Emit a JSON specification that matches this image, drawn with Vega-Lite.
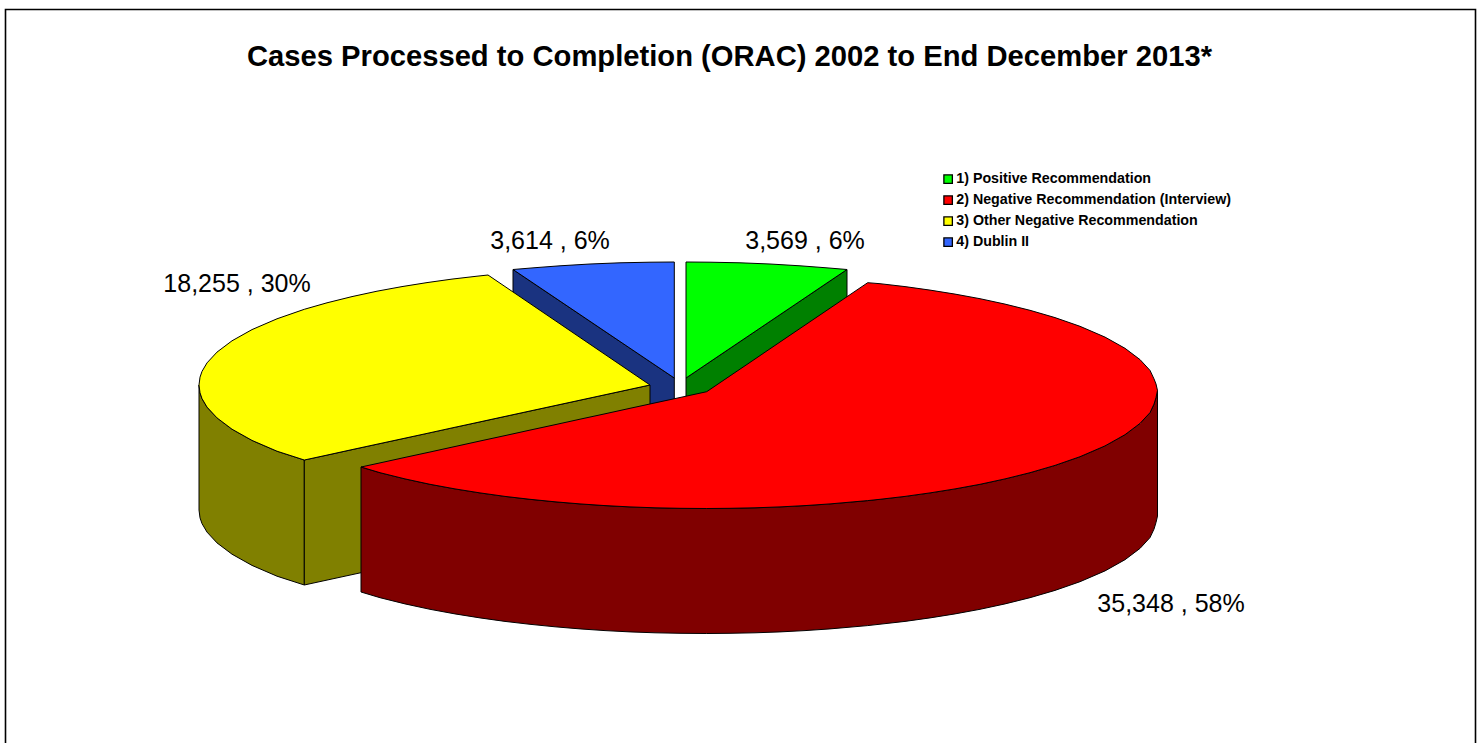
{
"$schema":"https://vega.github.io/schema/vega-lite/v6.json",
"width":1483,"height":743,"padding":0,
"autosize":{"type":"fit","contains":"padding"},
"background":"white",
"view":{"stroke":null},
"title":{"text":"Cases Processed to Completion (ORAC) 2002 to End December 2013*","font":"Liberation Sans","fontSize":29.2,"fontWeight":"bold","color":"black","anchor":"middle","frame":"group","dx":-12,"offset":-95,"baseline":"alphabetic"},
"layer":[
{"data":{"values":[{"x":5.5,"x2":1475.5,"y":9.5,"y2":760}]},
"mark":{"type":"rect","filled":false,"stroke":"black","strokeWidth":1.6,"clip":true},
"encoding":{"x":{"field":"x","type":"quantitative","scale":{"domain":[0,1483]},"axis":null},"x2":{"field":"x2"},"y":{"field":"y","type":"quantitative","scale":{"domain":[743,0]},"axis":null},"y2":{"field":"y2"}}},
{"data":{"values":[
{"part":"1) side","x":686,"y":378,"y2":503},{"part":"1) side","x":847,"y":269.5,"y2":394.5},
{"part":"4) side","x":513,"y":269.5,"y2":394.5},{"part":"4) side","x":674.3,"y":378,"y2":503},
{"part":"1) Positive Recommendation","x":686,"y":262,"y2":378},{"part":"1) Positive Recommendation","x":710,"y":262.2,"y2":361.8},{"part":"1) Positive Recommendation","x":740,"y":262.8,"y2":341.6},{"part":"1) Positive Recommendation","x":770,"y":264,"y2":321.4},{"part":"1) Positive Recommendation","x":800,"y":265.8,"y2":301.2},{"part":"1) Positive Recommendation","x":825,"y":267.7,"y2":284.3},{"part":"1) Positive Recommendation","x":847,"y":269.5,"y2":269.5},
{"part":"4) Dublin II","x":513,"y":269.5,"y2":269.5},{"part":"4) Dublin II","x":535,"y":267.7,"y2":284.3},{"part":"4) Dublin II","x":560,"y":265.8,"y2":301.1},{"part":"4) Dublin II","x":590,"y":264,"y2":321.3},{"part":"4) Dublin II","x":620,"y":262.8,"y2":341.5},{"part":"4) Dublin II","x":650,"y":262.2,"y2":361.7},{"part":"4) Dublin II","x":674.3,"y":262,"y2":378},
{"part":"3) side","x":199,"y":385,"y2":510},{"part":"3) side","x":200,"y":392.8,"y2":517.8},{"part":"3) side","x":202,"y":398.6,"y2":523.6},{"part":"3) side","x":207,"y":407.1,"y2":532.1},{"part":"3) side","x":217,"y":417.9,"y2":542.9},{"part":"3) side","x":232,"y":429.2,"y2":554.2},{"part":"3) side","x":252,"y":440.4,"y2":565.4},{"part":"3) side","x":277,"y":451.2,"y2":576.2},{"part":"3) side","x":304.3,"y":460,"y2":585},
{"part":"3) inner","x":304.3,"y":460,"y2":585},{"part":"3) inner","x":650,"y":385,"y2":510},
{"part":"3) Other Negative Recommendation","x":199,"y":385,"y2":385},{"part":"3) Other Negative Recommendation","x":200,"y":377.2,"y2":392.8},{"part":"3) Other Negative Recommendation","x":202,"y":371.4,"y2":398.6},{"part":"3) Other Negative Recommendation","x":207,"y":362.9,"y2":407.1},{"part":"3) Other Negative Recommendation","x":217,"y":352.1,"y2":417.9},{"part":"3) Other Negative Recommendation","x":232,"y":340.8,"y2":429.2},{"part":"3) Other Negative Recommendation","x":252,"y":329.6,"y2":440.4},{"part":"3) Other Negative Recommendation","x":277,"y":318.8,"y2":451.2},{"part":"3) Other Negative Recommendation","x":304.3,"y":309.3,"y2":460},{"part":"3) Other Negative Recommendation","x":327,"y":302.8,"y2":455.1},{"part":"3) Other Negative Recommendation","x":352,"y":296.6,"y2":449.6},{"part":"3) Other Negative Recommendation","x":377,"y":291.2,"y2":444.2},{"part":"3) Other Negative Recommendation","x":402,"y":286.6,"y2":438.8},{"part":"3) Other Negative Recommendation","x":427,"y":282.6,"y2":433.4},{"part":"3) Other Negative Recommendation","x":452,"y":279.1,"y2":427.9},{"part":"3) Other Negative Recommendation","x":477,"y":276.2,"y2":422.5},{"part":"3) Other Negative Recommendation","x":488,"y":275,"y2":420.1},{"part":"3) Other Negative Recommendation","x":650,"y":385,"y2":385},
{"part":"2) side","x":361,"y":467,"y2":592},{"part":"2) side","x":380,"y":472.7,"y2":597.7},{"part":"2) side","x":405,"y":478.9,"y2":603.9},{"part":"2) side","x":430,"y":484.3,"y2":609.3},{"part":"2) side","x":455,"y":488.9,"y2":613.9},{"part":"2) side","x":480,"y":492.9,"y2":617.9},{"part":"2) side","x":505,"y":496.4,"y2":621.4},{"part":"2) side","x":530,"y":499.3,"y2":624.3},{"part":"2) side","x":555,"y":501.8,"y2":626.8},{"part":"2) side","x":580,"y":503.9,"y2":628.9},{"part":"2) side","x":605,"y":505.6,"y2":630.6},{"part":"2) side","x":630,"y":506.9,"y2":631.9},{"part":"2) side","x":655,"y":507.8,"y2":632.8},{"part":"2) side","x":680,"y":508.3,"y2":633.3},{"part":"2) side","x":706.7,"y":508.5,"y2":633.5},{"part":"2) side","x":730,"y":508.3,"y2":633.3},{"part":"2) side","x":755,"y":507.8,"y2":632.8},{"part":"2) side","x":780,"y":506.9,"y2":631.9},{"part":"2) side","x":805,"y":505.6,"y2":630.6},{"part":"2) side","x":830,"y":503.9,"y2":628.9},{"part":"2) side","x":867.7,"y":500.6,"y2":625.6},{"part":"2) side","x":905,"y":496.4,"y2":621.4},{"part":"2) side","x":930,"y":492.9,"y2":617.9},{"part":"2) side","x":955,"y":488.9,"y2":613.9},{"part":"2) side","x":980,"y":484.3,"y2":609.3},{"part":"2) side","x":1005,"y":478.9,"y2":603.9},{"part":"2) side","x":1030,"y":472.7,"y2":597.7},{"part":"2) side","x":1055,"y":465.4,"y2":590.4},{"part":"2) side","x":1080,"y":456.7,"y2":581.7},{"part":"2) side","x":1105,"y":445.9,"y2":570.9},{"part":"2) side","x":1125,"y":434.7,"y2":559.7},{"part":"2) side","x":1140,"y":423.4,"y2":548.4},{"part":"2) side","x":1150,"y":412.6,"y2":537.6},{"part":"2) side","x":1154,"y":404.1,"y2":529.1},{"part":"2) side","x":1156,"y":397.5,"y2":522.5},{"part":"2) side","x":1157.5,"y":390.5,"y2":516},
{"part":"2) Negative Recommendation (Interview)","x":361,"y":467,"y2":467},{"part":"2) Negative Recommendation (Interview)","x":380,"y":462.9,"y2":472.7},{"part":"2) Negative Recommendation (Interview)","x":405,"y":457.4,"y2":478.9},{"part":"2) Negative Recommendation (Interview)","x":430,"y":452,"y2":484.3},{"part":"2) Negative Recommendation (Interview)","x":455,"y":446.5,"y2":488.9},{"part":"2) Negative Recommendation (Interview)","x":480,"y":441,"y2":492.9},{"part":"2) Negative Recommendation (Interview)","x":505,"y":435.6,"y2":496.4},{"part":"2) Negative Recommendation (Interview)","x":530,"y":430.1,"y2":499.3},{"part":"2) Negative Recommendation (Interview)","x":555,"y":424.7,"y2":501.8},{"part":"2) Negative Recommendation (Interview)","x":580,"y":419.2,"y2":503.9},{"part":"2) Negative Recommendation (Interview)","x":605,"y":413.8,"y2":505.6},{"part":"2) Negative Recommendation (Interview)","x":630,"y":408.3,"y2":506.9},{"part":"2) Negative Recommendation (Interview)","x":655,"y":402.9,"y2":507.8},{"part":"2) Negative Recommendation (Interview)","x":680,"y":397.5,"y2":508.3},{"part":"2) Negative Recommendation (Interview)","x":706.7,"y":391.7,"y2":508.5},{"part":"2) Negative Recommendation (Interview)","x":730,"y":375.9,"y2":508.3},{"part":"2) Negative Recommendation (Interview)","x":755,"y":359,"y2":507.8},{"part":"2) Negative Recommendation (Interview)","x":780,"y":342,"y2":506.9},{"part":"2) Negative Recommendation (Interview)","x":805,"y":325.1,"y2":505.6},{"part":"2) Negative Recommendation (Interview)","x":830,"y":308.2,"y2":503.9},{"part":"2) Negative Recommendation (Interview)","x":867.7,"y":282.7,"y2":500.6},{"part":"2) Negative Recommendation (Interview)","x":880,"y":283.7,"y2":499.3},{"part":"2) Negative Recommendation (Interview)","x":905,"y":286.6,"y2":496.4},{"part":"2) Negative Recommendation (Interview)","x":930,"y":290.1,"y2":492.9},{"part":"2) Negative Recommendation (Interview)","x":955,"y":294.1,"y2":488.9},{"part":"2) Negative Recommendation (Interview)","x":980,"y":298.7,"y2":484.3},{"part":"2) Negative Recommendation (Interview)","x":1005,"y":304.1,"y2":478.9},{"part":"2) Negative Recommendation (Interview)","x":1030,"y":310.3,"y2":472.7},{"part":"2) Negative Recommendation (Interview)","x":1055,"y":317.6,"y2":465.4},{"part":"2) Negative Recommendation (Interview)","x":1080,"y":326.3,"y2":456.7},{"part":"2) Negative Recommendation (Interview)","x":1105,"y":337.1,"y2":445.9},{"part":"2) Negative Recommendation (Interview)","x":1125,"y":348.3,"y2":434.7},{"part":"2) Negative Recommendation (Interview)","x":1140,"y":359.6,"y2":423.4},{"part":"2) Negative Recommendation (Interview)","x":1150,"y":370.4,"y2":412.6},{"part":"2) Negative Recommendation (Interview)","x":1154,"y":378.9,"y2":404.1},{"part":"2) Negative Recommendation (Interview)","x":1156,"y":384,"y2":397.5},{"part":"2) Negative Recommendation (Interview)","x":1157.5,"y":390.5,"y2":390.5}
]},
"mark":{"type":"area","stroke":"black","strokeWidth":1,"opacity":1,"interpolate":"linear"},
"encoding":{
"x":{"field":"x","type":"quantitative","scale":{"domain":[0,1483]},"axis":null},
"y":{"field":"y","type":"quantitative","stack":null,"scale":{"domain":[743,0]},"axis":null},
"y2":{"field":"y2"},
"color":{"field":"part","type":"nominal",
"scale":{"domain":["1) Positive Recommendation","2) Negative Recommendation (Interview)","3) Other Negative Recommendation","4) Dublin II","1) side","2) side","3) side","3) inner","4) side"],"range":["#00FF00","#FF0000","#FFFF00","#3366FF","#008000","#800000","#808000","#808000","#1A3380"]},
"legend":{"values":["1) Positive Recommendation","2) Negative Recommendation (Interview)","3) Other Negative Recommendation","4) Dublin II"],"title":null,"orient":"none","legendX":941,"legendY":172,"symbolType":"square","symbolSize":72,"symbolStrokeColor":"black","symbolStrokeWidth":1.3,"symbolOpacity":1,"labelFont":"Liberation Sans","labelFontSize":14.25,"labelFontWeight":"bold","labelColor":"black","labelOffset":1,"rowPadding":6,"labelLimit":400,"padding":0}}
}},
{"data":{"values":[
{"label":"3,569 , 6%","x":805,"y":241},
{"label":"3,614 , 6%","x":550,"y":241},
{"label":"18,255 , 30%","x":237,"y":284},
{"label":"35,348 , 58%","x":1171,"y":604}
]},
"mark":{"type":"text","font":"Liberation Sans","fontSize":25,"color":"black","align":"center","baseline":"middle"},
"encoding":{"x":{"field":"x","type":"quantitative","scale":{"domain":[0,1483]},"axis":null},"y":{"field":"y","type":"quantitative","scale":{"domain":[743,0]},"axis":null},"text":{"field":"label"}}}
]
}
